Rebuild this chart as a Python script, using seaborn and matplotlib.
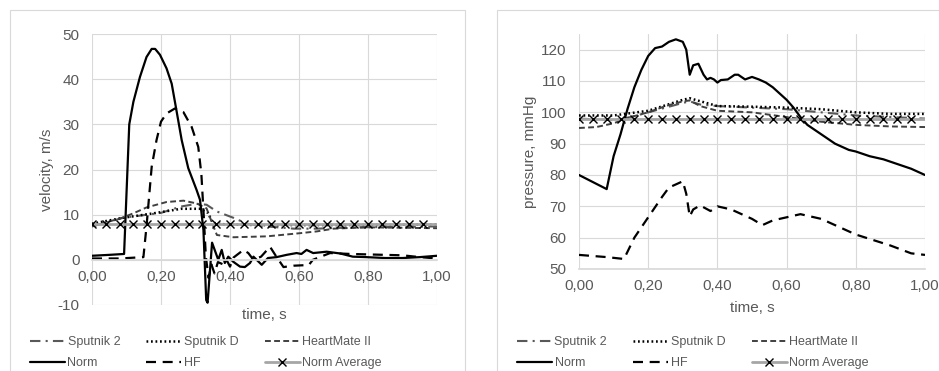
import pandas as pd
import seaborn as sns
import matplotlib.pyplot as plt
from matplotlib.patches import Rectangle

# === DADOS: velocidade (m/s) ===
vel_sp2_t = [0, 0.09, 0.2, 0.258, 0.303, 0.332, 0.362, 0.41, 0.449, 0.507, 0.585, 0.65, 0.77, 0.9, 1.0]
vel_sp2 = [7.4, 9.3, 10.4, 11.8, 12.4, 12.2, 10.7, 9.3, 8.0, 7.4, 6.9, 6.9, 7.2, 7.3, 7.4]

vel_spd_t = [0, 0.09, 0.187, 0.258, 0.313, 0.336, 0.35, 0.39, 0.5, 0.7, 1.0]
vel_spd = [8.0, 9.3, 10.4, 11.3, 11.3, 10.4, 8.2, 7.8, 7.7, 7.7, 7.8]

vel_hm_t = [0, 0.087, 0.12, 0.158, 0.216, 0.265, 0.303, 0.332, 0.347, 0.362, 0.41, 0.507, 0.603, 0.652, 0.7, 0.797, 1.0]
vel_hm = [7.4, 9.3, 10.3, 11.6, 12.8, 13.1, 12.5, 11.4, 8.4, 5.5, 5.0, 5.2, 5.9, 6.3, 6.9, 7.2, 7.0]

vel_norm_t = [0, 0.05, 0.093, 0.108, 0.12, 0.139, 0.158, 0.173, 0.183, 0.197, 0.216, 0.231, 0.245, 0.26,
              0.279, 0.303, 0.313, 0.323, 0.331, 0.335, 0.348, 0.366, 0.376, 0.385, 0.395, 0.409, 0.429,
              0.443, 0.458, 0.468, 0.492, 0.51, 0.535, 0.564, 0.593, 0.607, 0.622, 0.641, 0.68, 0.72,
              0.756, 0.795, 0.85, 0.9, 0.95, 1.0]
vel_norm = [0.9, 1.1, 1.3, 30.0, 35.0, 40.5, 44.9, 46.7, 46.7, 45.4, 42.4, 39.0, 33.0, 26.5,
            20.3, 15.5, 13.3, 6.6, -8.9, -9.5, 3.8, 0.0, 2.2, -0.7, 0.7, -0.4, -1.5,
            -1.6, -0.7, 0.7, -1.1, 0.4, 0.6, 1.1, 1.5, 1.3, 2.2, 1.5, 1.8, 1.4,
            0.7, 0.6, 0.4, 0.4, 0.6, 0.9]

vel_hf_t = [0, 0.08, 0.149, 0.158, 0.173, 0.187, 0.2, 0.216, 0.24, 0.265, 0.289, 0.308, 0.317, 0.324,
            0.33, 0.338, 0.346, 0.355, 0.365, 0.38, 0.39, 0.40, 0.41, 0.439, 0.453, 0.468, 0.49, 0.516,
            0.531, 0.555, 0.584, 0.613, 0.628, 0.64, 0.69, 0.75, 0.8, 0.9, 0.95, 1.0]
vel_hf = [0.3, 0.3, 0.6, 7.4, 20.6, 26.5, 30.6, 32.4, 33.5, 32.7, 29.4, 25.0, 19.0, 9.6,
          0.7, -4.0, -1.0, -3.0, -0.5, -1.0, 0.0, -1.5, 0.5, 2.2, 1.5, 0.0, 0.7, 2.9,
          1.1, -1.6, -1.3, -1.2, -1.2, 0.0, 1.5, 1.3, 1.2, 1.0, 0.6, 0.3]

# === DADOS: pressão (mmHg) ===
pr_sp2_t = [0, 0.1, 0.15, 0.2, 0.25, 0.3, 0.32, 0.35, 0.4, 0.5, 0.6, 0.7, 0.8, 0.9, 1.0]
pr_sp2 = [98.0, 97.5, 98.5, 100.0, 101.5, 103.0, 103.5, 102.5, 102.0, 101.5, 101.0, 100.0, 99.0, 98.5, 98.0]

pr_spd_t = [0, 0.1, 0.2, 0.3, 0.32, 0.4, 0.5, 0.6, 0.7, 0.8, 0.9, 1.0]
pr_spd = [99.0, 99.0, 100.5, 104.0, 104.5, 102.0, 101.8, 101.5, 101.0, 100.0, 99.5, 99.5]

pr_hm_t = [0, 0.05, 0.1, 0.15, 0.2, 0.25, 0.3, 0.32, 0.35, 0.4, 0.5, 0.6, 0.7, 0.8, 0.9, 1.0]
pr_hm = [95.0, 95.3, 96.5, 98.5, 100.0, 102.0, 103.5, 103.8, 102.0, 100.5, 100.0, 98.5, 97.0, 96.0, 95.5, 95.3]

pr_norm_t = [0, 0.08, 0.1, 0.12, 0.14, 0.16, 0.18, 0.2, 0.22, 0.24, 0.26, 0.28, 0.30, 0.31, 0.32,
             0.33, 0.345, 0.36, 0.37, 0.38, 0.39, 0.40, 0.41, 0.43, 0.45, 0.46, 0.48, 0.50, 0.52,
             0.54, 0.56, 0.58, 0.60, 0.62, 0.64, 0.66, 0.70, 0.74, 0.78, 0.80, 0.84, 0.88, 0.92,
             0.96, 1.0]
pr_norm = [80.0, 75.5, 86.0, 93.0, 101.0, 108.0, 113.5, 118.0, 120.5, 121.0, 122.5, 123.3, 122.5, 120.0, 112.0,
           115.0, 115.5, 112.0, 110.5, 111.0, 110.5, 109.5, 110.3, 110.5, 112.0, 112.0, 110.5, 111.3, 110.5,
           109.5, 108.0, 106.0, 104.0, 101.5, 98.5, 96.0, 93.0, 90.0, 88.0, 87.5, 86.0, 85.0, 83.5,
           82.0, 80.0]

pr_hf_t = [0, 0.08, 0.13, 0.16, 0.2, 0.24, 0.26, 0.3, 0.31, 0.32, 0.33, 0.35, 0.38, 0.40, 0.44,
           0.5, 0.53, 0.56, 0.6, 0.64, 0.7, 0.8, 0.9, 0.96, 1.0]
pr_hf = [54.5, 53.8, 53.2, 60.0, 66.5, 73.0, 76.0, 78.0, 74.0, 66.8, 69.0, 70.3, 68.5, 70.0, 69.0,
         66.0, 64.0, 65.5, 66.5, 67.5, 66.0, 61.0, 57.5, 55.0, 54.5]

# média normal (marcadores a cada 0,04 s)
avg_t = [0, 0.04, 0.08, 0.12, 0.16, 0.2, 0.24, 0.28, 0.32, 0.36, 0.4, 0.44, 0.48,
         0.52, 0.56, 0.6, 0.64, 0.68, 0.72, 0.76, 0.8, 0.84, 0.88, 0.92, 0.96, 1.0]
vel_avg = [8.0] * len(avg_t)
pr_avg = [97.8] * len(avg_t)

x_ticks = [0, 0.2, 0.4, 0.6, 0.8, 1.0]
x_tick_labels = ['0,00', '0,20', '0,40', '0,60', '0,80', '1,00']
vel_ticks = [-10, 0, 10, 20, 30, 40, 50]
pr_ticks = [50, 60, 70, 80, 90, 100, 110, 120]

# === ESTILO ===
sns.set_theme(style='whitegrid')
plt.rcParams['font.family'] = ['Liberation Sans', 'DejaVu Sans']
plt.rcParams['axes.unicode_minus'] = False
cinza_txt = '#595959'
cinza_grid = '#d9d9d9'

fig = plt.figure(figsize=(9.39, 3.71), dpi=100)

# molduras dos dois gráficos
fig.add_artist(Rectangle((10 / 939, -0.02), 455 / 939, 1 - 10 / 371 + 0.02, transform=fig.transFigure,
                         fill=False, edgecolor=cinza_grid, lw=0.8))
fig.add_artist(Rectangle((497 / 939, -0.02), 460 / 939, 1 - 10 / 371 + 0.02, transform=fig.transFigure,
                         fill=False, edgecolor=cinza_grid, lw=0.8))

ax1 = fig.add_axes([92 / 939, 1 - 305 / 371, 345 / 939, 271 / 371])
ax2 = fig.add_axes([579 / 939, 1 - 269 / 371, 346 / 939, 235 / 371])

series = [
    (ax1, [(vel_sp2_t, vel_sp2), (vel_spd_t, vel_spd), (vel_hm_t, vel_hm),
           (vel_norm_t, vel_norm), (vel_hf_t, vel_hf), (avg_t, vel_avg)]),
    (ax2, [(pr_sp2_t, pr_sp2), (pr_spd_t, pr_spd), (pr_hm_t, pr_hm),
           (pr_norm_t, pr_norm), (pr_hf_t, pr_hf), (avg_t, pr_avg)]),
]

nomes = ['Sputnik 2', 'Sputnik D', 'HeartMate II', 'Norm', 'HF', 'Norm Average']
estilos = [
    dict(color='#595959', lw=1.5, linestyle=(0, (5, 2.5, 1, 2.5))),
    dict(color='black', lw=1.8, linestyle=(0, (0.7, 1.1))),
    dict(color='#404040', lw=1.4, linestyle=(0, (3, 1.7))),
    dict(color='black', lw=1.6, linestyle='-'),
    dict(color='black', lw=1.6, linestyle=(0, (4.5, 3))),
    dict(color='#a6a6a6', lw=2.0, linestyle='-', marker='x', markersize=5.5,
         markeredgecolor='black', markeredgewidth=1.0, markevery=list(range(25))),
]

for ax, dados in series:
    for (t, y), nome, est in zip(dados, nomes, estilos):
        sns.lineplot(x=t, y=y, ax=ax, label=nome, legend=False, **est)

    ax.set_xlim(0, 1)
    ax.set_xticks(x_ticks)
    ax.set_xticklabels(x_tick_labels)
    ax.grid(True, color=cinza_grid, lw=0.8)
    for lado in ['top', 'right', 'left']:
        ax.spines[lado].set_visible(False)
    ax.spines['bottom'].set_color(cinza_grid)
    ax.tick_params(axis='both', length=0, labelsize=11, labelcolor=cinza_txt)
    ax.tick_params(axis='x', pad=7)
    ax.tick_params(axis='y', pad=9)

    linhas = ax.get_lines()
    ordem = [0, 3, 1, 4, 2, 5]
    leg = ax.legend([linhas[i] for i in ordem], [nomes[i] for i in ordem], ncol=3,
                    loc='upper left', frameon=False, fontsize=9, handlelength=2.8,
                    handletextpad=0.2, columnspacing=2.1, labelspacing=0.75,
                    borderpad=0, borderaxespad=0, bbox_transform=fig.transFigure,
                    bbox_to_anchor=((30 if ax is ax1 else 517) / 939, 1 - 336 / 371))
    for txt in leg.get_texts():
        txt.set_color(cinza_txt)
    leg.legend_handles[5].set_markevery([1])

# eixo de velocidade: eixo horizontal cruza em zero
ax1.set_ylim(-10, 50)
ax1.set_yticks(vel_ticks)
ax1.spines['bottom'].set_position(('data', 0))
ax1.set_ylabel('velocity, m/s', fontsize=11, color=cinza_txt)
ax1.yaxis.set_label_coords(-0.11, 0.5)
ax1.set_xlabel('time, s', fontsize=11, color=cinza_txt)
ax1.xaxis.set_label_coords(0.5, -0.01)

ax2.set_ylim(50, 125)
ax2.set_yticks(pr_ticks)
ax2.set_ylabel('pressure, mmHg', fontsize=11, color=cinza_txt)
ax2.yaxis.set_label_coords(-0.12, 0.5)
ax2.set_xlabel('time, s', fontsize=11, color=cinza_txt)
ax2.xaxis.set_label_coords(0.5, -0.135)

plt.savefig('out.png', dpi=100)
